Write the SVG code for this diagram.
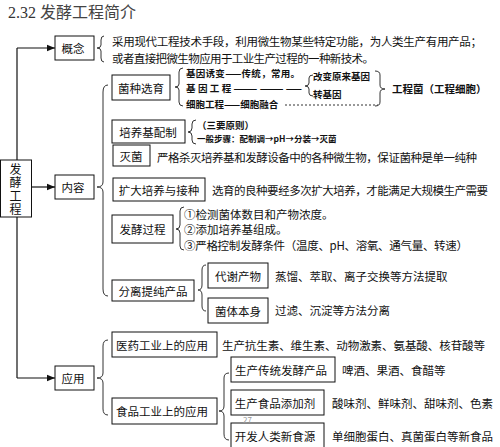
<svg xmlns="http://www.w3.org/2000/svg" width="500" height="447" viewBox="0 0 500 447">
<defs>
<style>
text{font-family:"Noto Sans CJK SC","Liberation Sans",sans-serif;fill:#111;dominant-baseline:central}
.t{font-size:11.5px}
.s{font-size:9.5px;font-weight:bold}
.c{text-anchor:middle}
.box{fill:#fff;stroke:#111;stroke-width:1}
.ln{fill:none;stroke:#111;stroke-width:1.2}
.br{fill:none;stroke:#333;stroke-width:1}
.title{font-family:"Liberation Serif","Noto Sans CJK SC",serif;font-size:16px;fill:#333;dominant-baseline:auto}
.v{writing-mode:vertical-rl;font-size:12px;letter-spacing:1.5px}
</style>
<marker id="ah" viewBox="0 0 10 10" refX="10" refY="5" markerWidth="7" markerHeight="7" orient="auto"><path d="M0,1 L10,5 L0,9 Z" fill="#111"/></marker>
</defs>
<rect width="500" height="447" fill="#fff"/>
<text class="title" x="8" y="18">2.32 <tspan font-family="Noto Sans CJK SC,sans-serif" fill="#444">发酵工程简介</tspan></text>

<g id="connectors">
<path class="ln" d="M17,48 L17,378"/>
<path class="ln" d="M17,48 L55,48" marker-end="url(#ah)"/>
<path class="ln" d="M31,187 L55,187" marker-end="url(#ah)"/>
<path class="ln" d="M17,378 L55,378" marker-end="url(#ah)"/>
<path class="br" d="M104,36 Q101,36 101,40 L101,45 Q101,48 97,48 Q101,48 101,51 L101,58 Q101,62 104,62"/>
<path class="br" d="M108,85 Q103,85 103,92 L103,182 Q103,187 97,187 Q103,187 103,192 L103,289 Q103,296 108,296"/>
<path class="br" d="M183,68 Q179,68 179,72 L179,84 Q179,87 175,87 Q179,87 179,90 L179,102 Q179,106 183,106"/>
<path class="br" d="M313,75 Q309,75 309,78 L309,83 Q309,86 305,86 Q309,86 309,89 L309,93 Q309,96 313,96"/>
<path class="br" d="M375,71 Q380,71 380,75 L380,85 Q380,89 385,89 Q380,89 380,93 L380,102 Q380,106 375,106"/>
<path class="br" d="M285,105 L378,105" stroke-dasharray="2,2"/>
<path class="br" d="M196,120 Q192,120 192,124 L192,128 Q192,132 188,132 Q192,132 192,136 L192,140 Q192,144 196,144"/>
<path class="br" d="M184,207 Q180,207 180,211 L180,225 Q180,229 176,229 Q180,229 180,233 L180,246 Q180,250 184,250"/>
<path class="br" d="M206,265 Q202,265 202,270 L202,285 Q202,290 198,290 Q202,290 202,295 L202,306 Q202,311 206,311"/>
<path class="br" d="M108,340 Q103,340 103,346 L103,373 Q103,378 97,378 Q103,378 103,383 L103,409 Q103,415 108,415"/>
<path class="br" d="M229,373 Q224,373 224,378 L224,406 Q224,411 219,411 Q224,411 224,416 L224,434 Q224,440 229,440"/>
</g>

<g id="main"><rect class="box" x="0.5" y="160" width="31" height="57"/>
<text class="v" x="15.5" y="163">发酵工程</text></g>

<g id="gainian"><rect class="box" x="55" y="36" width="39" height="24"/><text class="t c" x="73" y="48">概念</text></g>
<g id="gainian-text">
<text class="t" x="112" y="41" textLength="370" lengthAdjust="spacing">采用现代工程技术手段，利用微生物某些特定功能，为人类生产有用产品；</text>
<text class="t" x="112" y="58" textLength="262" lengthAdjust="spacing">或者直接把微生物应用于工业生产过程的一种新技术。</text>
</g>

<g id="neirong"><rect class="box" x="55" y="175" width="39" height="24"/><text class="t c" x="73" y="187">内容</text></g>

<g id="junzhong"><rect class="box" x="112" y="75" width="58" height="25"/><text class="t c" x="141" y="87.5">菌种选育</text>
<text class="s" x="186" y="73" textLength="114" lengthAdjust="spacing">基因诱变——传统，常用。</text>
<text class="s" x="186" y="88" textLength="116" lengthAdjust="spacing">基因工程————————</text>
<text class="s" x="186" y="104">细胞工程——细胞融合</text>
<text class="s" x="313" y="76">改变原来基因</text>
<text class="s" x="313" y="94">转基因</text>
<text class="s" x="392" y="88" style="font-size:10.5px">工程菌（工程细胞）</text>
</g>

<g id="peiyangji"><rect class="box" x="112" y="120" width="73" height="23"/><text class="t c" x="148" y="131.5">培养基配制</text>
<text class="s" x="197" y="125">（三要原则）</text>
<text class="s" x="197" y="138" style="font-size:8.5px">一般步骤：配制调→pH→分装→灭菌</text>
</g>

<g id="miejun"><rect class="box" x="113" y="145" width="37" height="21"/><text class="t c" x="131" y="155.5">灭菌</text>
<text class="t" x="157" y="157" textLength="320" lengthAdjust="spacing">严格杀灭培养基和发酵设备中的各种微生物，保证菌种是单一纯种</text>
</g>

<g id="kuoda"><rect class="box" x="113" y="178" width="92" height="23"/><text class="t c" x="159" y="189.5">扩大培养与接种</text>
<text class="t" x="212" y="190" textLength="276" lengthAdjust="spacing">选育的良种要经多次扩大培养，才能满足大规模生产需要</text>
</g>

<g id="fajiao"><rect class="box" x="112" y="215" width="61" height="28"/><text class="t c" x="142.5" y="229">发酵过程</text>
<text class="t" x="184" y="214">①检测菌体数目和产物浓度。</text>
<text class="t" x="184" y="229">②添加培养基组成。</text>
<text class="t" x="184" y="245" textLength="284" lengthAdjust="spacing">③严格控制发酵条件（温度、pH、溶氧、通气量、转速）</text>
</g>

<g id="fenli"><rect class="box" x="112" y="280" width="82" height="21"/><text class="t c" x="153" y="290.5">分离提纯产品</text></g>
<g id="daixie"><rect class="box" x="208" y="263" width="60" height="25"/><text class="t c" x="238" y="275.5">代谢产物</text>
<text class="t" x="275" y="276">蒸馏、萃取、离子交换等方法提取</text></g>
<g id="junti"><rect class="box" x="208" y="298" width="60" height="25"/><text class="t c" x="238" y="310.5">菌体本身</text>
<text class="t" x="275" y="310">过滤、沉淀等方法分离</text></g>

<g id="yingyong"><rect class="box" x="55" y="366" width="39" height="24"/><text class="t c" x="73" y="378">应用</text></g>
<g id="yiyao"><rect class="box" x="112" y="332" width="105" height="25"/><text class="t c" x="162" y="344.5">医药工业上的应用</text>
<text class="t" x="222" y="345" textLength="263" lengthAdjust="spacing">生产抗生素、维生素、动物激素、氨基酸、核苷酸等</text></g>
<g id="shipin"><rect class="box" x="112" y="398" width="105" height="26"/><text class="t c" x="162" y="411">食品工业上的应用</text></g>
<g id="chuantong"><rect class="box" x="231" y="357" width="104" height="25"/><text class="t c" x="281" y="369.5">生产传统发酵产品</text>
<text class="t" x="342" y="370">啤酒、果酒、食醋等</text></g>
<g id="tianjia"><rect class="box" x="231" y="390" width="93" height="25"/><text class="t c" x="275" y="402.5">生产食品添加剂</text>
<text class="t" x="332" y="403">酸味剂、鲜味剂、甜味剂、色素</text></g>
<g id="xinshiyuan"><rect class="box" x="231" y="423" width="93" height="30"/><text class="t c" x="275" y="435.5">开发人类新食源</text>
<text class="t" x="332" y="436">单细胞蛋白、真菌蛋白等新食品</text></g>
<text x="243" y="419" style="font-size:8px;fill:#999">27</text>
</svg>
